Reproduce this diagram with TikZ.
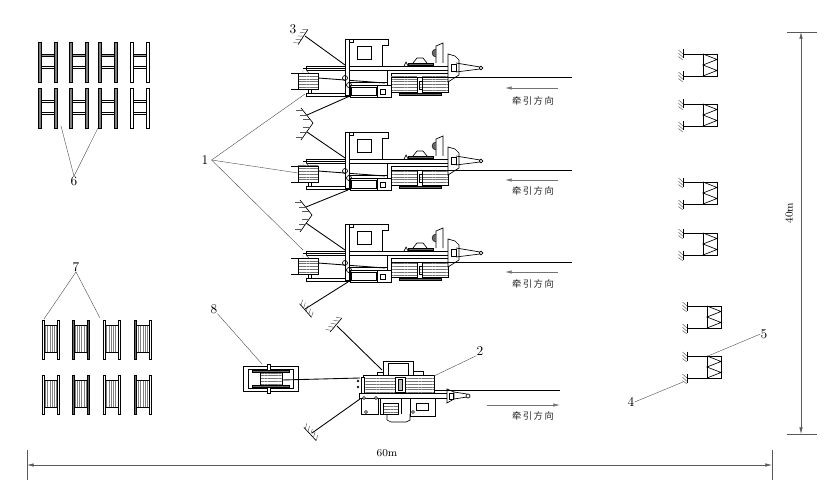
\documentclass[tikz,border=0pt]{standalone}
\usepackage{fontspec}
\newfontfamily\cjk[LetterSpace=16]{Noto Sans CJK SC}
\usetikzlibrary{patterns.meta,arrows.meta}
\tikzset{
  >={Latex[length=5pt,width=2.6pt]},
  line_l/.style = {line width=.5pt, draw=black},
  guy_l/.style = {line width=.65pt, draw=black},
  rope_l/.style = {line width=.65pt, draw=black},
  tick_l/.style = {line width=.35pt, draw=black!65},
  lead_l/.style = {line width=.3pt, draw=black!70},
  dim_l/.style = {line width=.45pt, draw=black!65},
  pull_l/.style = {line width=.5pt, draw=black!55, ->},
  stripe_h/.style = {line width=.45pt, draw=black, pattern={Lines[angle=0,distance=2.1pt,line width=.7pt]}, pattern color=black!55},
  stripe_v/.style = {line width=.2pt, draw=black!30, pattern={Lines[angle=90,distance=1.7pt,line width=.45pt]}, pattern color=black!50},
  dark_p/.style = {line width=.3pt, draw=black, fill=black!60},
  lab_n/.style = {inner sep=0pt, font=\fontsize{10}{12}\selectfont},
  dim_n/.style = {inner sep=0pt, font=\fontsize{8}{10}\selectfont},
  dir_n/.style = {inner sep=0pt, font=\cjk\fontsize{7}{9}\selectfont, text=black!85},
  pics/hreel/.style 2 args = {code = {
    \draw[line width=.4pt, fill=#1] (0,0) rectangle (3,40);
    \draw[line width=.4pt, fill=#1] (16,0) rectangle (19,40);
    \draw[line width=.4pt, fill=#2] (3,12) rectangle (16,14.5);
    \draw[line width=.4pt, fill=white] (3,24) rectangle (16,26.5);
  }},
  pics/sreel/.style 2 args = {code = {
    \path[stripe_v] (2.5,5) rectangle (15,32);
    \draw[line_l] (2.5,5) -- (15,5) (2.5,32) -- (15,32);
    \draw[line width=.4pt, fill=#1] (0,0) rectangle (2.5,39);
    \draw[line width=.4pt, fill=#2] (15,0) rectangle (17.5,39);
  }},
  pics/hatch/.style = {code = {
    \draw[line_l] (-9,0) -- (9,0);
    \draw[tick_l] (-7,0) -- (-10,-5) (-3,0) -- (-6,-5) (1,0) -- (-2,-5) (5,0) -- (2,-5) (9,0) -- (6,-5);
  }},
  pics/vanchor/.style = {code = {
    \draw[line_l] (-12,-15) -- (0,0) -- (-12,17);
    \draw[tick_l] (-10,-13) -- (-17,-13) (-6.5,-8) -- (-13,-8) (-3,-4) -- (-10,-4);
    \draw[tick_l] (-10,14) -- (-17,14) (-6.5,9) -- (-13,9) (-3,4) -- (-10,4);
  }},
  pics/stake/.style = {code = {
    \draw[line_l] (0,-4.5) -- (0,4.5);
    \draw[tick_l] (-4.5,-4) -- (0,0) (-4.5,-.7) -- (0,3.3) (-4.5,2.6) -- (0,6);
  }},
  pics/block/.style = {code = {
    \draw[line_l] (0,0) rectangle (14,22);
    \draw[line_l] (0,0) -- (14,5.5) -- (0,11) -- (14,16.5) -- (0,22);
    \draw[line_l] (-20,0) -- (0,0) (-20,22) -- (0,22);
    \pic at (-20,0) {stake};
    \pic at (-20,22) {stake};
  }},
  pics/winch_t/.style = {code = {
    \draw[line_l] (4.5,26) -- (4.5,-1) -- (43,-1) -- (43,5.5) -- (37.7,5.5) -- (37.7,26);
    \draw[line_l] (4.5,2) -- (8,2) -- (8,-1);
    \draw[line_l] (12.7,6) rectangle (26.7,19);
    \draw[line_l] (-39,26) rectangle (105,30.5);
    \draw[line_l] (-42,28) -- (0,28);
    \path[stripe_h] (-47,33) rectangle (-27,49);
    \draw[line_l] (-54,33) -- (-27,33) (-54,49) -- (-27,49);
    \draw[tick_l] (-42,33) -- (-42,30) (-39,30) -- (-36,33);
    \draw[line_l] (-37,49) -- (-37,53) (-34,49) -- (-34,53);
    \draw[line_l] (-39,53) rectangle (5,56);
    \draw[guy_l] (-27,38) -- (40,43);
    \draw[line_l, fill=white] (0,-1) rectangle (4.5,55);
    \draw[line_l] (0,38) circle (2.5) (4,45) circle (2.5);
    \draw[line_l] (5,42) -- (42,42) (42,30.5) -- (42,45);
    \draw[line_l] (5,45) -- (32,45) (5,45) -- (5,57) -- (46,57) -- (46,45) -- (32,45) -- (32,57);
    \draw[line_l] (6,47) rectangle (31,55);
    \draw[line_l] (35,49) rectangle (40,54);
    \draw[rope_l] (20,57) -- (46,57);
    \draw[line_l] (46,33) rectangle (105,37);
    \path[stripe_h] (46,37) rectangle (72,52);
    \path[stripe_h] (74,41) rectangle (77,49);
    \path[stripe_h] (77,37) rectangle (103,52);
    \path[dark_p] (54,53) rectangle (96,55);
    \path[dark_p] (63,23) rectangle (88,25);
    \draw[line_l] (68,23) -- (72,18) -- (78,18) -- (82,23);
    \draw[line_l] (59,26) -- (61,22) -- (63,26);
    \draw[line_l] (91,23) -- (91,6) -- (98,3) -- (98,23);
    \path[dark_p] (91,17) arc (90:270:4);
    \draw[line_l, fill=white] (103,42) -- (103,14) -- (110,16) -- (114,20) -- (114,35) -- cycle;
    \draw[line_l] (106,24) rectangle (111,31);
    \draw[line_l] (111,23) -- (135,27) (111,32) -- (135,29);
    \draw[line_l, fill=white] (136,28) circle (1.8);
    \draw[rope_l] (103,37) -- (227,37);
  }},
  pics/winch_b/.style = {code = {
    \draw[line_l] (23,-15) -- (23,-29) -- (53,-29) -- (53,-15);
    \draw[line_l] (28,-15) -- (28,-27) -- (48,-27) -- (48,-15);
    \draw[line_l] (17,-15) -- (17,-18) -- (23,-18);
    \draw[line_l] (53,-19) rectangle (63,-15);
    \path[stripe_h] (3,-15) rectangle (74,3);
    \draw[line_l, fill=white] (35,-13) rectangle (45,2);
    \draw[line_l, fill=black!25] (38,-11) rectangle (42,0);
    \draw[line_l, fill=white] (1,-13) rectangle (4,3);
    \draw[line_l] (-2,-9) circle (1) (-2,-3) circle (1);
    \draw[line_l] (-1,3) rectangle (87,8);
    \draw[line_l, fill=white] (87,-1) -- (94,2) -- (94,9) -- (87,13) -- cycle;
    \draw[line_l] (89,3) rectangle (93,9);
    \draw[line_l] (94,2) -- (107,4) (94,9) -- (107,7);
    \draw[line_l, fill=white] (108,6) circle (2);
    \draw[rope_l] (74,0) -- (200,0);
    \draw[line_l] (1,8) rectangle (18,24);
    \draw[line_l] (20,8) -- (20,24) -- (27,24) (50,26) -- (75,26) -- (75,8);
    \path[stripe_h] (23,13) rectangle (38,24);
    \draw[line_l] (41,8) -- (41,24) (50,8) -- (50,26);
    \draw[line_l] (56,13) rectangle (68,20);
    \draw[line_l] (27,24) -- (27,30) -- (31,32) -- (46,32) -- (50,30) -- (50,24);
    \draw[line_l, fill=white] (4,8) circle (1.5) (16,8) circle (1.5) (6,22) circle (1.5) (53,22) circle (1.5);
  }},
  pics/trailer/.style = {code = {
    \draw[line_l] (0,0) rectangle (55,25);
    \draw[line_l] (5,3) rectangle (50,22);
    \path[dark_p] (9,4) rectangle (46,6);
    \path[dark_p] (9,19) rectangle (46,21);
    \path[stripe_h] (17,6) rectangle (39,19);
    \draw[line_l, fill=white] (24.5,-2) rectangle (27.5,4);
    \draw[line_l, fill=white] (24.5,21) rectangle (27.5,27);
  }}
}
\begin{document}
\begin{tikzpicture}[x=.75pt,y=-.75pt]
	\useasboundingbox (0,0) rectangle (838,499);

	\pic at (38,42) {hreel={black!50}{black!40}};
	\pic at (69,42) {hreel={black!50}{black!40}};
	\pic at (98,42) {hreel={black!50}{black!40}};
	\pic at (130,42) {hreel={white}{black!40}};
	\pic at (38,88) {hreel={black!50}{white}};
	\pic at (69,88) {hreel={black!50}{white}};
	\pic at (98,88) {hreel={black!50}{white}};
	\pic at (130,88) {hreel={white}{white}};

	\pic at (42,320) {sreel={white}{white}};
	\pic at (72,320) {sreel={black!60}{black!60}};
	\pic at (103,320) {sreel={white}{white}};
	\pic at (134,320) {sreel={black!60}{white}};
	\pic at (42,375) {sreel={white}{white}};
	\pic at (72,375) {sreel={black!60}{black!60}};
	\pic at (103,375) {sreel={white}{white}};
	\pic at (134,375) {sreel={black!60}{white}};

	\pic at (345,40) {winch_t};
	\pic at (345,133) {winch_t};
	\pic at (345,225) {winch_t};
	\pic at (360,390) {winch_b};
	\pic at (243,366) {trailer};

	\pic[rotate=57] at (303,37) {hatch};
	\pic at (313,123) {vanchor};
	\pic at (312,215) {vanchor};
	\pic[rotate=-49] at (305.5,310.5) {hatch};
	\pic[rotate=50] at (336,325) {hatch};
	\pic[rotate=-47] at (310,434) {hatch};

	\coordinate (guy_a) at (305,36);
	\coordinate (guy_b) at (345,65);
	\coordinate (guy_c) at (350,96);
	\coordinate (guy_d) at (307,115);
	\coordinate (guy_e) at (307,132);
	\coordinate (guy_f) at (345,158);
	\coordinate (guy_g) at (348,190);
	\coordinate (guy_h) at (306,207);
	\coordinate (guy_i) at (306,223);
	\coordinate (guy_j) at (345,250);
	\coordinate (guy_k) at (348,282);
	\coordinate (guy_m) at (305,309);
	\coordinate (guy_n) at (337,326);
	\coordinate (guy_o) at (382,370);
	\coordinate (guy_p) at (312,433);
	\coordinate (guy_q) at (360,399);
	\coordinate (rope_a) at (282,380);
	\coordinate (rope_b) at (360,378);
	\draw[guy_l] (guy_a) -- (guy_b);
	\draw[guy_l] (guy_c) -- (guy_d);
	\draw[guy_l] (guy_e) -- (guy_f);
	\draw[guy_l] (guy_g) -- (guy_h);
	\draw[guy_l] (guy_i) -- (guy_j);
	\draw[guy_l] (guy_k) -- (guy_m);
	\draw[guy_l] (guy_n) -- (guy_o);
	\draw[guy_l] (guy_p) -- (guy_q);
	\draw[guy_l] (rope_a) -- (rope_b);

	\pic at (703,54) {block};
	\pic at (703,104) {block};
	\pic at (703,182) {block};
	\pic at (703,233) {block};
	\pic at (707,306) {block};
	\pic at (707,356) {block};

	\coordinate (pull_a1) at (558,88);
	\coordinate (pull_a2) at (505,88);
	\coordinate (pull_b1) at (558,180);
	\coordinate (pull_b2) at (505,180);
	\coordinate (pull_c1) at (558,272);
	\coordinate (pull_c2) at (505,272);
	\coordinate (pull_d1) at (487,405);
	\coordinate (pull_d2) at (560,405);
	\draw[pull_l] (pull_a1) -- (pull_a2);
	\draw[pull_l] (pull_b1) -- (pull_b2);
	\draw[pull_l] (pull_c1) -- (pull_c2);
	\draw[pull_l] (pull_d1) -- (pull_d2);
	\node[dir_n] (dir_a) at (533,101) {牵引方向};
	\node[dir_n] (dir_b) at (533,191) {牵引方向};
	\node[dir_n] (dir_c) at (533,284) {牵引方向};
	\node[dir_n] (dir_d) at (533,416) {牵引方向};

	\node[lab_n] (lab_1) at (205,160) {1};
	\node[lab_n] (lab_2) at (480,351) {2};
	\node[lab_n] (lab_3) at (293,29) {3};
	\node[lab_n] (lab_4) at (631,402) {4};
	\node[lab_n] (lab_5) at (764,334) {5};
	\node[lab_n] (lab_6) at (74,181) {6};
	\node[lab_n] (lab_7) at (76,267) {7};
	\node[lab_n] (lab_8) at (214,309) {8};

	\coordinate (end_1a) at (305,94);
	\coordinate (end_1b) at (298,173);
	\coordinate (end_1c) at (303,250);
	\coordinate (end_2) at (434,376);
	\coordinate (end_4) at (683,382);
	\coordinate (end_5) at (708,356);
	\coordinate (end_6a) at (61,126);
	\coordinate (end_6b) at (98,128);
	\coordinate (end_7a) at (44,319);
	\coordinate (end_7b) at (100,318);
	\coordinate (end_8) at (262,364);
	\draw[lead_l] (lab_1.east) ++(3,0) -- (end_1a);
	\draw[lead_l] (lab_1.east) ++(3,0) -- (end_1b);
	\draw[lead_l] (lab_1.east) ++(3,0) -- (end_1c);
	\draw[lead_l] (lab_2.south west) -- (end_2);
	\draw[lead_l] (lab_4.east) -- (end_4);
	\draw[lead_l] (lab_5.west) -- (end_5);
	\draw[lead_l] (lab_6.north) -- (end_6a);
	\draw[lead_l] (lab_6.north) -- (end_6b);
	\draw[lead_l] (lab_7.south) -- (end_7a);
	\draw[lead_l] (lab_7.south) -- (end_7b);
	\draw[lead_l] (lab_8.south east) -- (end_8);

	\coordinate (dim_v1) at (801,32);
	\coordinate (dim_v2) at (801,434);
	\coordinate (dim_h1) at (27,465);
	\coordinate (dim_h2) at (772,465);
	\draw[dim_l, <->] (dim_v1) -- (dim_v2);
	\draw[dim_l, <->] (dim_h1) -- (dim_h2);
	\draw[dim_l] (787,32) -- (817,32) (787,434) -- (817,434);
	\draw[dim_l] (27,450) -- (27,480) (772,450) -- (772,480);
	\node[dim_n, rotate=90] (dim_40) at (789,213) {40m};
	\node[dim_n] (dim_60) at (387,453) {60m};
\end{tikzpicture}
\end{document}
